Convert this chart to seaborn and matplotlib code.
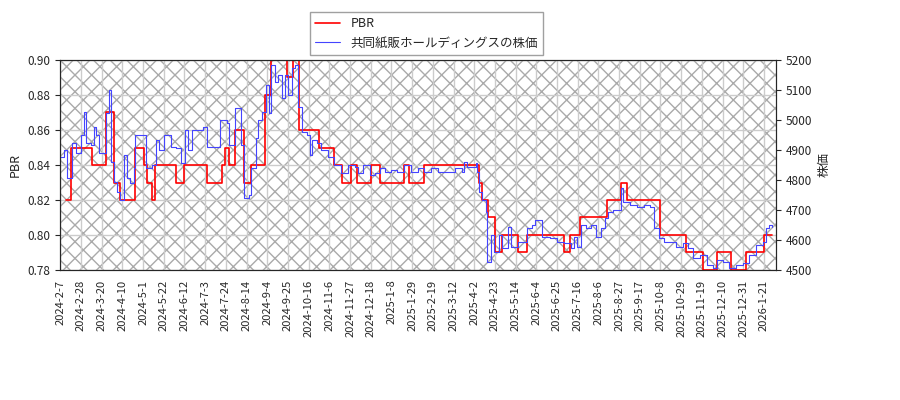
import matplotlib
matplotlib.use('Agg')
import matplotlib.pyplot as plt
import seaborn as sns
import pandas as pd

sns.set_style('white')
plt.rcParams['font.family'] = ['Noto Sans CJK JP', 'DejaVu Sans']

start = pd.Timestamp('2024-02-07')
end_day = 722

# PBR step changes (day offset from 2024-02-07, value)
pbr_days = [6, 11, 32, 46, 54, 61, 76, 85, 88, 93, 96, 117, 126, 149, 164, 167, 171, 177, 186, 193,
            208, 214, 230, 236, 242, 263, 278, 286, 295, 301, 315, 324, 349, 354, 369, 425, 428, 434,
            441, 448, 464, 474, 511, 517, 527, 555, 569, 575, 608, 635, 652, 666, 681, 696, 714]
pbr_vals = [0.82, 0.85, 0.84, 0.87, 0.83, 0.82, 0.85, 0.84, 0.83, 0.82, 0.84, 0.83, 0.84, 0.83, 0.84,
            0.85, 0.84, 0.86, 0.83, 0.84, 0.88, 0.90, 0.89, 0.90, 0.86, 0.85, 0.84, 0.83, 0.84, 0.83,
            0.84, 0.83, 0.84, 0.83, 0.84, 0.83, 0.82, 0.81, 0.79, 0.80, 0.79, 0.80, 0.79, 0.80, 0.81,
            0.82, 0.83, 0.82, 0.80, 0.79, 0.78, 0.79, 0.78, 0.79, 0.80]

# stock price (day offset, yen)
price_points = [
    (0, 4878), (4, 4900), (7, 4806), (12, 4922), (16, 4889), (21, 4950), (24, 5028), (26, 4922),
    (31, 4917), (34, 4978), (36, 4950), (39, 4889), (44, 4889), (46, 5022), (49, 5100), (51, 4861),
    (54, 4794), (58, 4761), (61, 4733), (65, 4883), (68, 4806), (71, 4789), (75, 4839), (76, 4950),
    (83, 4950), (87, 4839), (93, 4850), (97, 4933), (100, 4900), (105, 4950), (112, 4911), (117, 4906),
    (122, 4856), (127, 4967), (130, 4900), (134, 4967), (145, 4978), (149, 4911), (157, 4911),
    (162, 5000), (169, 4989), (171, 4917), (177, 5039), (183, 4917), (186, 4739), (191, 4750),
    (194, 4839), (199, 4939), (201, 5000), (205, 5028), (209, 5117), (212, 5022), (214, 5183),
    (218, 5128), (221, 5150), (225, 5072), (228, 5150), (231, 5083), (235, 5172), (238, 5183),
    (241, 5044), (245, 4961), (250, 4950), (253, 4883), (255, 4933), (260, 4922), (265, 4900),
    (272, 4878), (278, 4850), (285, 4822), (292, 4850), (299, 4844), (302, 4822), (307, 4850),
    (314, 4817), (319, 4822), (324, 4839), (329, 4828), (336, 4833), (342, 4828), (349, 4850),
    (356, 4828), (363, 4839), (369, 4828), (376, 4839), (383, 4828), (393, 4828), (400, 4839),
    (408, 4828), (410, 4861), (413, 4844), (422, 4856), (423, 4828), (425, 4761), (428, 4733),
    (432, 4694), (433, 4528), (437, 4617), (440, 4561), (445, 4617), (448, 4572), (454, 4644),
    (457, 4578), (464, 4594), (470, 4594), (474, 4639), (479, 4650), (482, 4667), (486, 4667),
    (489, 4611), (497, 4606), (504, 4594), (511, 4589), (518, 4572), (521, 4611), (524, 4578),
    (528, 4650), (533, 4639), (538, 4650), (544, 4611), (549, 4639), (553, 4672), (556, 4694),
    (561, 4700), (566, 4700), (569, 4772), (571, 4728), (578, 4717), (585, 4711), (592, 4717),
    (598, 4711), (602, 4639), (607, 4606), (613, 4594), (620, 4594), (625, 4578), (632, 4589),
    (637, 4572), (642, 4539), (649, 4550), (656, 4517), (662, 4506), (666, 4533), (672, 4528),
    (679, 4506), (686, 4517), (693, 4522), (699, 4550), (706, 4583), (713, 4594), (716, 4639),
    (719, 4650), (722, 4644),
]
price_days = [d for d, _ in price_points]
price_vals = [v for _, v in price_points]

pbr_df = pd.DataFrame({'date': start + pd.to_timedelta(pbr_days + [end_day], unit='D'),
                       'pbr': pbr_vals + [pbr_vals[-1]]})
price_df = pd.DataFrame({'date': start + pd.to_timedelta(price_days, unit='D'), 'price': price_vals})

fig = plt.figure(figsize=(9, 4), dpi=100)
ax1 = fig.add_axes([0.067, 0.325, 0.795, 0.525])
ax2 = ax1.twinx()

ax1.patch.set_facecolor('white')
ax1.patch.set_hatch('xx')
ax1.patch.set_edgecolor('#aaaaaa')
ax1.patch.set_linewidth(0)

l1, = ax1.step(pbr_df['date'], pbr_df['pbr'], where='post', color='red', lw=1.2, label='PBR')
sns.lineplot(data=price_df, x='date', y='price', ax=ax2, color='#4444ff', lw=0.8,
             drawstyle='steps-post', legend=False)
l2 = ax2.get_lines()[0]

ax1.set_xlim(start, start + pd.Timedelta(days=end_day + 4))
ax1.set_ylim(0.78, 0.90)
ax2.set_ylim(4500, 5200)
yt = [0.78, 0.80, 0.82, 0.84, 0.86, 0.88, 0.90]
ax1.set_yticks(yt)
ax1.set_yticklabels([f'{v:.2f}' for v in yt])
ax2.set_yticks(range(4500, 5201, 100))

ticks = pd.date_range(start, start + pd.Timedelta(days=end_day), freq='21D')
ax1.set_xticks(ticks)
ax1.set_xticklabels([f'{t.year}-{t.month}-{t.day}' for t in ticks], rotation=90, fontsize=8)
ax1.tick_params(axis='y', labelsize=8.5)
ax2.tick_params(axis='y', labelsize=8.5)
ax1.grid(True, color='#cccccc', lw=1)
ax1.set_ylabel('PBR', fontsize=9)
ax2.set_ylabel('株価', fontsize=9)
ax2.set_xlabel('')
ax1.set_xlabel('')

fig.legend([l1, l2], ['PBR', '共同紙販ホールディングスの株価'], loc='upper left',
           bbox_to_anchor=(0.338, 0.985), fontsize=9, fancybox=False, edgecolor='#888888')

fig.savefig('out.png', dpi=100)
